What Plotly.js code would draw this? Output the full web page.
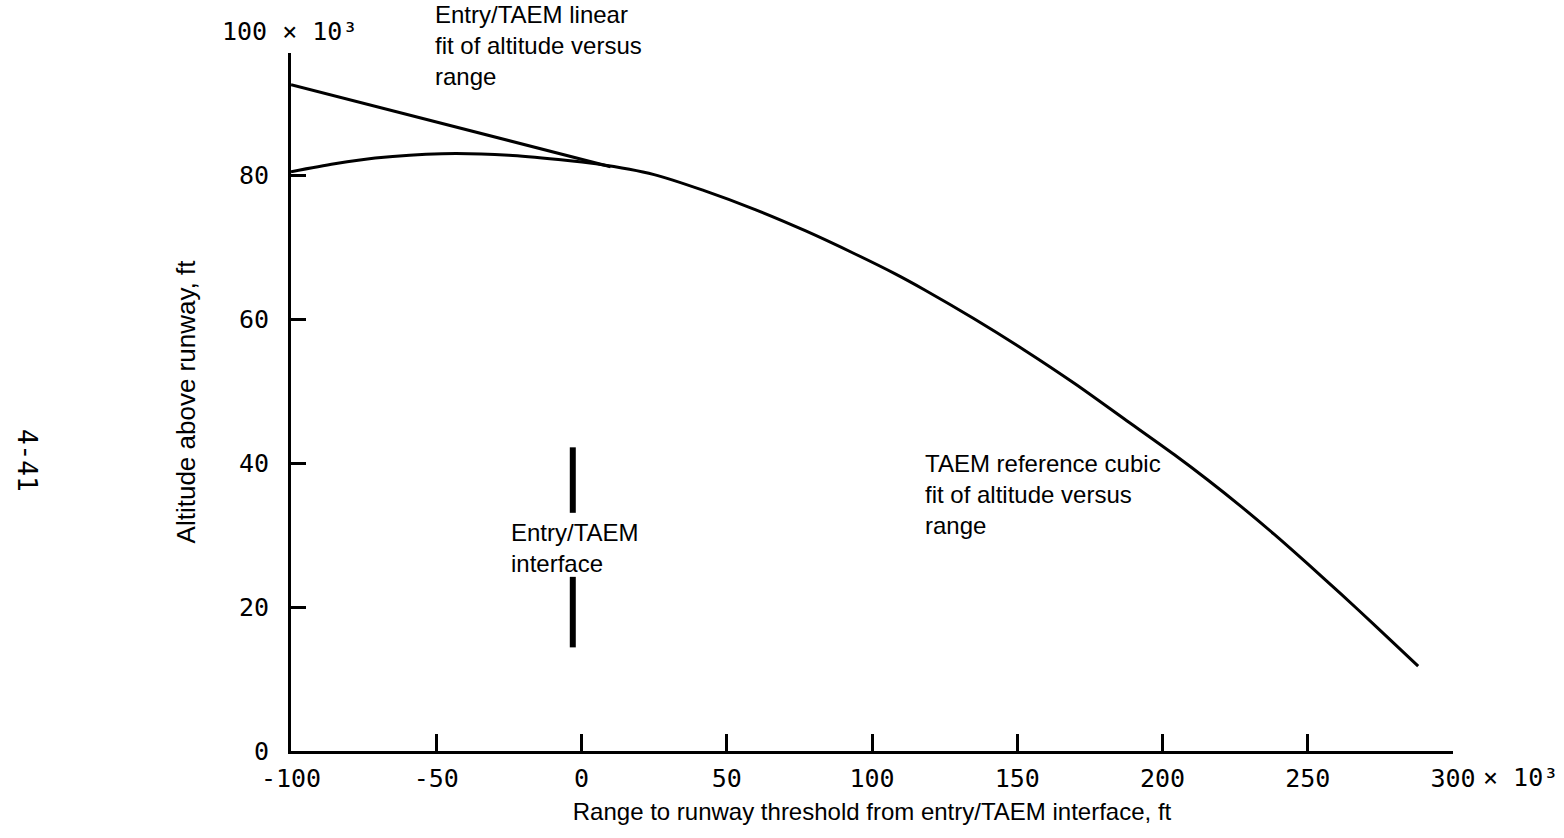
<!DOCTYPE html>
<html><head><meta charset="utf-8">
<script src="https://cdn.plot.ly/plotly-3.0.1.min.js"></script>
<style>html,body{margin:0;padding:0;background:#fff}#chart{width:1564px;height:838px}</style>
</head><body><div id="chart"></div>
<script>
// TAEM reference cubic fit of altitude versus range (x10^3 ft)
const cubicRange = [-100, -85, -71, -48, -25, -8, 5, 25, 42, 60, 77, 94, 108, 118, 135, 152.5, 170, 187, 204, 215.5, 227, 238.5, 250, 261.5, 273, 288];
const cubicAltitude = [80.5, 81.6, 82.4, 83.0, 82.8, 82.2, 81.6, 80.1, 77.9, 75.2, 72.3, 69.1, 66.3, 64.1, 60.1, 55.7, 51.0, 46.1, 41.2, 37.7, 34.0, 30.1, 26.0, 21.8, 17.5, 11.8];
// Entry/TAEM linear fit
const linearRange = [-100, 10];
const linearAltitude = [92.6, 81.2];
// Entry/TAEM interface marker
const interfaceRange = [-3, -3];
const interfaceUpper = [42.2, 33.1];
const interfaceLower = [24.2, 14.4];
// ticks
const xTickVals = [-100, -50, 0, 50, 100, 150, 200, 250, 300];
const xTickText = ['-100', '-50', '0', '50', '100', '150', '200', '250', '300'];
const yTickVals = [0, 20, 40, 60, 80];
const yTickText = ['0', '20', '40', '60', '80'];
const yTopLabel = '100';
const scaleSuffix = '\u00d7 10\u00b3';
const pageNumber = '4-41';

const mono = {family: 'DejaVu Sans Mono, monospace', size: 25, color: '#000'};
const sans = {family: 'Liberation Sans, Arial, sans-serif', size: 24, color: '#000'};
const black = '#000';

const traces = [
  {x: cubicRange, y: cubicAltitude, mode: 'lines', line: {color: black, width: 3, shape: 'spline', smoothing: 0.8}, hoverinfo: 'skip'},
  {x: linearRange, y: linearAltitude, mode: 'lines', line: {color: black, width: 3}, hoverinfo: 'skip'},
  {x: interfaceRange, y: interfaceUpper, mode: 'lines', line: {color: black, width: 6}, hoverinfo: 'skip'},
  {x: interfaceRange, y: interfaceLower, mode: 'lines', line: {color: black, width: 6}, hoverinfo: 'skip'}
];

const layout = {
  width: 1564, height: 838,
  margin: {l: 291, r: 111, t: 53, b: 87},
  paper_bgcolor: '#fff', plot_bgcolor: '#fff',
  showlegend: false,
  xaxis: {
    range: [-100, 300], showgrid: false, zeroline: false,
    showline: true, linecolor: black, linewidth: 3,
    ticks: 'inside', ticklen: 17, tickwidth: 3, tickcolor: black,
    tickvals: xTickVals, ticktext: xTickText, tickfont: mono,
    ticklabelstandoff: 3,
    title: {text: 'Range to runway threshold from entry/TAEM interface, ft', font: {family: sans.family, size: 24, color: black}, standoff: 12}
  },
  yaxis: {
    range: [0, 97], showgrid: false, zeroline: false,
    showline: true, linecolor: black, linewidth: 3,
    ticks: 'inside', ticklen: 15, tickwidth: 3, tickcolor: black,
    tickvals: yTickVals, ticktext: yTickText, tickfont: mono,
    ticklabelstandoff: 14,
    title: {text: 'Altitude above runway, ft', font: {family: sans.family, size: 26, color: black}, standoff: 36}
  },
  annotations: [
    {x: -0.0611, y: 1.031, xref: 'paper', yref: 'paper', xanchor: 'left', yanchor: 'middle', showarrow: false,
     text: yTopLabel + ' ' + scaleSuffix, font: mono},
    {x: 300, y: 0, xref: 'x', yref: 'y', xanchor: 'left', yanchor: 'top', xshift: 28, yshift: -10, showarrow: false,
     text: scaleSuffix, font: mono},
    {x: 0.1222, y: 1.0109, xref: 'paper', yref: 'paper', xanchor: 'left', yanchor: 'middle', align: 'left', showarrow: false,
     text: 'Entry/TAEM linear<br>fit of altitude versus<br>range', font: sans},
    {x: 117.7, y: 35.6, xref: 'x', yref: 'y', xanchor: 'left', yanchor: 'middle', align: 'left', showarrow: false,
     text: 'TAEM reference cubic<br>fit of altitude versus<br>range', font: sans},
    {x: -25.1, y: 28.2, xref: 'x', yref: 'y', xanchor: 'left', yanchor: 'middle', align: 'left', showarrow: false,
     text: 'Entry/TAEM<br>interface', font: sans},
    {x: -0.227, y: 0.4167, xref: 'paper', yref: 'paper', xanchor: 'center', yanchor: 'middle', showarrow: false,
     textangle: 90, text: pageNumber, font: {family: 'DejaVu Sans Mono, monospace', size: 26, color: '#000'}}
  ]
};

Plotly.newPlot('chart', traces, layout, {displayModeBar: false, staticPlot: true});
</script>
</body></html>
